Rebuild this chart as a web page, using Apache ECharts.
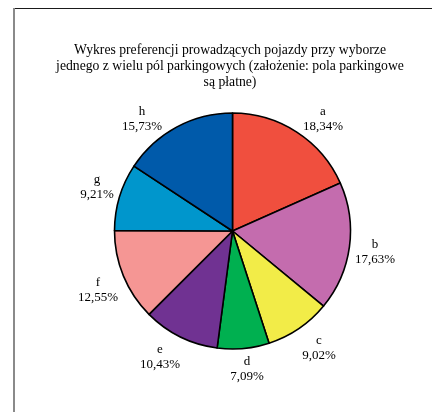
<!DOCTYPE html>
<html>
<head>
<meta charset="utf-8">
<script src="https://cdn.jsdelivr.net/npm/echarts@6/dist/echarts.min.js"></script>
<style>
  html, body { margin: 0; padding: 0; background: #fff; }
  #chart { width: 432px; height: 412px; }
</style>
</head>
<body>
<div id="chart"></div>
<script>
// Parking-lot preference shares (percent)
const categories = ['a', 'b', 'c', 'd', 'e', 'f', 'g', 'h'];
const shares = [18.34, 17.63, 9.02, 7.09, 10.43, 12.55, 9.21, 15.73];
const sliceColors = ['#F04F3E', '#C46CAE', '#F2EC48', '#00B050', '#703292', '#F59694', '#0096CC', '#005AAA'];
const titleText = 'Wykres preferencji prowadzących pojazdy przy wyborze\njednego z wielu pól parkingowych (założenie: pola parkingowe\nsą płatne)';

// Pie geometry
const CX = 232.5, CY = 231, R = 118;
const GAP = 6;          // distance between pie rim and label box
const PLOT_TOP = 104;   // labels never rise above this line
const K = 2;

const total = shares.reduce((s, v) => s + v, 0);
const startFrac = [];
shares.reduce((acc, v, i) => { startFrac[i] = acc / total; return acc + v; }, 0);

const chart = echarts.init(document.getElementById('chart'), null, { renderer: 'canvas' });

function clamp(v) { return Math.max(-1, Math.min(1, v)); }

// Place each label box just outside the rim along its slice's mid-angle
function placeLabel(p) {
  const i = p.dataIndex;
  const th = (startFrac[i] + shares[i] / total / 2) * 2 * Math.PI;
  const s = Math.sin(th), c = -Math.cos(th);
  const d = R + GAP;
  const w = p.labelRect.width, h = p.labelRect.height;
  let x = CX + d * s + (w / 2) * clamp(K * s);
  let y = CY + d * c + (h / 2) * clamp(K * c);
  if (y - h / 2 < PLOT_TOP) {
    y = PLOT_TOP + h / 2;
    // slide sideways until the near bottom corner clears the rim
    const dy = (y + h / 2) - CY;
    const dd = R + 2;
    if (Math.abs(dy) < dd) {
      const dx = Math.sqrt(dd * dd - dy * dy);
      if (s >= 0) x = CX + dx + w / 2;
      else x = CX - dx - w / 2;
    }
  }
  return { x: Math.round(x), y: Math.round(y), align: 'center', verticalAlign: 'middle' };
}

const option = {
  animation: false,
  backgroundColor: '#ffffff',
  title: {
    text: titleText,
    left: 225,
    top: 37,
    textAlign: 'center',
    textStyle: {
      fontFamily: 'Liberation Serif',
      fontSize: 13.7,
      fontWeight: 'normal',
      color: '#000',
      lineHeight: 16
    }
  },
  graphic: [
    { type: 'line', shape: { x1: 14, y1: 8.5, x2: 432, y2: 8.5 }, style: { stroke: '#1a1a1a', lineWidth: 1 } },
    { type: 'line', shape: { x1: 14, y1: 8, x2: 14, y2: 412 }, style: { stroke: '#8a8a8a', lineWidth: 2 } }
  ],
  series: [{
    type: 'pie',
    center: [CX, CY],
    radius: [0, R],
    startAngle: 90,
    clockwise: true,
    avoidLabelOverlap: false,
    data: categories.map((name, i) => ({
      name: name,
      value: shares[i],
      itemStyle: { color: sliceColors[i] }
    })),
    itemStyle: { borderColor: '#000', borderWidth: 1.6 },
    label: {
      show: true,
      position: 'outside',
      formatter: (p) => p.name + '\n' + p.value.toFixed(2).replace('.', ',') + '%',
      fontFamily: 'Liberation Serif',
      fontSize: 13,
      lineHeight: 15,
      color: '#000'
    },
    labelLine: { show: false },
    labelLayout: placeLabel,
    emphasis: { disabled: true }
  }]
};

chart.setOption(option);
</script>
</body>
</html>
